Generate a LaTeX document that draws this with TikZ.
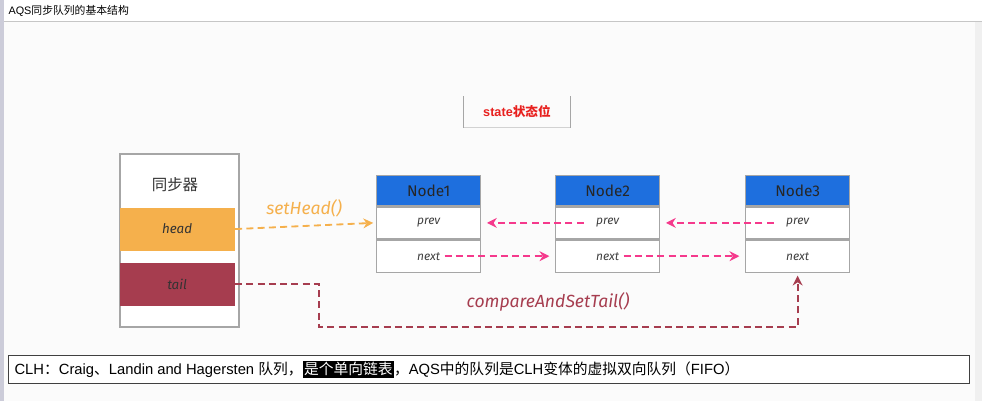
\documentclass[tikz,border=0pt]{standalone}
\usepackage{fontspec}
\usepackage{xcolor}
\setmainfont{Liberation Sans}
\newfontfamily\cjk{Noto Sans CJK SC}
\newfontfamily\hand{Fira Sans}
\usetikzlibrary{arrows.meta,positioning}

\definecolor{headorange}{HTML}{F5B04C}
\definecolor{taildark}{HTML}{A63D4F}
\definecolor{nodeblue}{HTML}{1E6FDE}
\definecolor{linkpink}{HTML}{F5398C}
\definecolor{statered}{HTML}{E8201E}

\begin{document}
\begin{tikzpicture}[
    x=0.025cm, y=-0.025cm,
    thick,
    >={Stealth[length=7pt,width=7pt]},
    hdr/.style={rectangle,fill=nodeblue,draw=gray!70,line width=0.9pt,inner sep=0pt,minimum width=2.6cm,minimum height=0.75cm,font=\hand\fontsize{11}{13}\selectfont,text=black!85},
    field/.style={rectangle,fill=white,draw=gray!70,line width=0.9pt,inner sep=0pt,minimum width=2.6cm,minimum height=0.8cm,font=\hand\itshape\fontsize{8.5}{10}\selectfont,text=black!75},
    slot/.style={rectangle,inner sep=0pt,minimum width=2.875cm,minimum height=1.075cm,anchor=north west,font=\hand\itshape\fontsize{9.5}{11}\selectfont,text=black!80},
    link/.style={->,dash pattern=on 5pt off 3pt,line width=1.3pt},
    pinkarrow/.style={link,draw=linkpink},
    headarrow/.style={link,draw=headorange},
    tailarrow/.style={link,draw=taildark},
    arrowlabel/.style={font=\hand\itshape\fontsize{12.5}{14}\selectfont}
]

% Window frame
\useasboundingbox (0,0) rectangle (982,401);
\fill[blue!15!gray!35] (0,0) rectangle (4,401);
\fill[white] (4,0) rectangle (982,21);
\fill[gray!3] (4,22) rectangle (975,401);
\fill[gray!12] (975,22) rectangle (982,401);
\draw[gray!45,thin] (4,21.5) -- (982,21.5);
\node[anchor=west,inner sep=0pt,font=\fontsize{7.7}{9}\selectfont] (title) at (8,11) {AQS{\cjk 同步队列的基本结构}};

% State field
\node[minimum width=2.625cm,minimum height=0.75cm,text=statered,font=\bfseries\fontsize{9}{11}\selectfont] (state) at (517,112) {state{\cjk\bfseries 状态位}};
\draw[gray!70,line width=0.8pt] (state.north west) -- (state.south west);
\draw[gray!70,line width=0.8pt] (state.north east) -- (state.south east);
\draw[gray!35,line width=0.6pt] (state.south west) -- (state.south east);

% Synchronizer
\node[rectangle,fill=white,draw=gray!70,line width=1.2pt,anchor=north west,minimum width=2.975cm,minimum height=4.325cm] (sync) at (119,153) {};
\node[font=\cjk\fontsize{11}{13}\selectfont,text=black!80] (synclabel) at (175,185) {同步器};
\node[slot,fill=headorange] (head) at (119,207) {head};
\node[slot,fill=taildark] (tail) at (119,262) {tail};

% Queue nodes
\foreach \n/\x in {1/376,2/555,3/745}{
    \node[hdr,anchor=north west] (hdr\n) at (\x,175) {Node\n};
    \node[field,below=0pt of hdr\n] (prev\n) {prev};
    \node[field,below=0pt of prev\n] (next\n) {next};
}

% Links
\draw[headarrow] (head.east) -- node[above=2pt,arrowlabel,text=headorange] {setHead()} ([xshift=-2pt]prev1.west);
\draw[pinkarrow] ([xshift=-0.6cm]prev2.center) -- ([xshift=4pt]prev1.east);
\draw[pinkarrow] ([xshift=-0.6cm]prev3.center) -- ([xshift=4pt]prev2.east);
\draw[pinkarrow] ([xshift=0.4cm]next1.center) -- ([xshift=-4pt]next2.west);
\draw[pinkarrow] ([xshift=0.4cm]next2.center) -- ([xshift=-4pt]next3.west);
\draw[tailarrow] (tail.east) -- ++(2.1cm,0) |- ([yshift=-1.35cm]next3.south) -- ([yshift=-2pt]next3.south);
\node[arrowlabel,text=taildark] (castlabel) at (548,302) {compareAndSetTail()};

% Note
\node[rectangle,draw=black!75,fill=white,line width=0.8pt,anchor=north west,inner sep=0pt,minimum width=24.025cm,minimum height=0.7cm] (note) at (8,355) {};
\node[anchor=west,inner sep=0pt,font=\fontsize{10.5}{12}\selectfont] (notetext) at ([xshift=0.15cm]note.west)
    {CLH{\cjk ：}Craig{\cjk 、}Landin and Hagersten {\cjk 队列，}{\setlength{\fboxsep}{1pt}\colorbox{black}{\textcolor{white}{\cjk 是个单向链表}}}{\cjk ，}AQS{\cjk 中的队列是}CLH{\cjk 变体的虚拟双向队列（}FIFO{\cjk ）}};

\end{tikzpicture}
\end{document}
